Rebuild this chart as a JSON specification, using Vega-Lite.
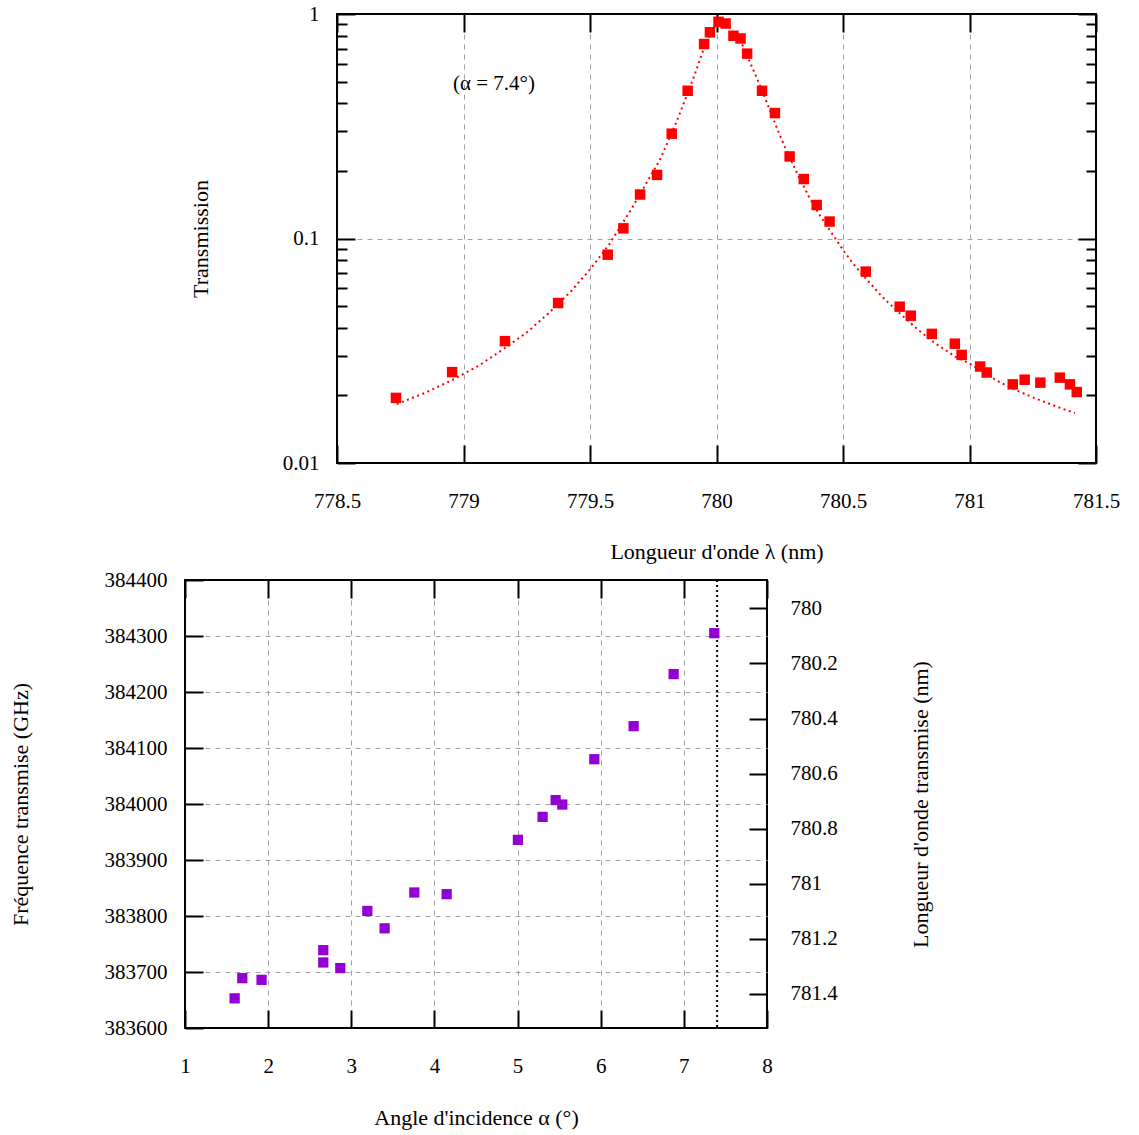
{
  "$schema": "https://vega.github.io/schema/vega-lite/v6.json",
  "padding": {"left": 8, "top": 2, "right": 5, "bottom": 5},
  "background": "white",
  "bounds": "flush",
  "spacing": 566,
  "config": {
    "view": {"stroke": null},
    "font": "Liberation Serif",
    "axis": {
      "labelFont": "Liberation Serif",
      "titleFont": "Liberation Serif",
      "labelFontSize": 21,
      "titleFontSize": 22,
      "titleFontWeight": "normal",
      "labelColor": "black",
      "titleColor": "black",
      "tickColor": "black",
      "tickWidth": 2,
      "gridColor": "#a0a0a0",
      "gridDash": [5, 5],
      "gridWidth": 1,
      "labelFlush": false,
      "domain": false
    }
  },
  "datasets": {
    "transmission": [
      {"wl": 778.733, "T": 0.0195}, {"wl": 778.955, "T": 0.0254}, {"wl": 779.164, "T": 0.0349},
      {"wl": 779.374, "T": 0.0516}, {"wl": 779.570, "T": 0.0847}, {"wl": 779.632, "T": 0.111},
      {"wl": 779.698, "T": 0.157}, {"wl": 779.765, "T": 0.192}, {"wl": 779.823, "T": 0.293},
      {"wl": 779.886, "T": 0.455}, {"wl": 779.951, "T": 0.735}, {"wl": 779.974, "T": 0.829},
      {"wl": 780.008, "T": 0.923}, {"wl": 780.036, "T": 0.907}, {"wl": 780.067, "T": 0.800},
      {"wl": 780.095, "T": 0.778}, {"wl": 780.121, "T": 0.666}, {"wl": 780.180, "T": 0.455},
      {"wl": 780.231, "T": 0.362}, {"wl": 780.289, "T": 0.232}, {"wl": 780.345, "T": 0.184},
      {"wl": 780.396, "T": 0.141}, {"wl": 780.447, "T": 0.119}, {"wl": 780.590, "T": 0.0712},
      {"wl": 780.724, "T": 0.0497}, {"wl": 780.768, "T": 0.0453}, {"wl": 780.851, "T": 0.0376},
      {"wl": 780.942, "T": 0.0340}, {"wl": 780.969, "T": 0.0303}, {"wl": 781.042, "T": 0.0269},
      {"wl": 781.068, "T": 0.0253}, {"wl": 781.171, "T": 0.0224}, {"wl": 781.218, "T": 0.0235},
      {"wl": 781.280, "T": 0.0228}, {"wl": 781.357, "T": 0.0240}, {"wl": 781.397, "T": 0.0224},
      {"wl": 781.424, "T": 0.0207}
    ],
    "fit": [
      {"wl": 778.736, "T": 0.0183}, {"wl": 778.847, "T": 0.0205}, {"wl": 778.955, "T": 0.0234},
      {"wl": 779.057, "T": 0.0270}, {"wl": 779.157, "T": 0.0321}, {"wl": 779.252, "T": 0.0383},
      {"wl": 779.342, "T": 0.0471}, {"wl": 779.426, "T": 0.0584}, {"wl": 779.504, "T": 0.0737},
      {"wl": 779.576, "T": 0.0942}, {"wl": 779.665, "T": 0.136}, {"wl": 779.777, "T": 0.225},
      {"wl": 779.844, "T": 0.335}, {"wl": 779.912, "T": 0.530}, {"wl": 779.948, "T": 0.691},
      {"wl": 779.974, "T": 0.806}, {"wl": 780.006, "T": 0.940}, {"wl": 780.046, "T": 0.893},
      {"wl": 780.104, "T": 0.722}, {"wl": 780.132, "T": 0.611}, {"wl": 780.161, "T": 0.513},
      {"wl": 780.196, "T": 0.411}, {"wl": 780.240, "T": 0.308}, {"wl": 780.268, "T": 0.259},
      {"wl": 780.318, "T": 0.196}, {"wl": 780.370, "T": 0.150}, {"wl": 780.410, "T": 0.126},
      {"wl": 780.462, "T": 0.103}, {"wl": 780.500, "T": 0.0889}, {"wl": 780.542, "T": 0.0768},
      {"wl": 780.590, "T": 0.0665}, {"wl": 780.653, "T": 0.0553}, {"wl": 780.720, "T": 0.0469},
      {"wl": 780.791, "T": 0.0397}, {"wl": 780.865, "T": 0.0341}, {"wl": 780.943, "T": 0.0298},
      {"wl": 780.999, "T": 0.0278}, {"wl": 781.088, "T": 0.0240}, {"wl": 781.130, "T": 0.0226},
      {"wl": 781.193, "T": 0.0209}, {"wl": 781.260, "T": 0.0194}, {"wl": 781.325, "T": 0.0182},
      {"wl": 781.370, "T": 0.0174}, {"wl": 781.417, "T": 0.0167}
    ],
    "angle": [
      {"alpha": 1.597, "freq": 383653}, {"alpha": 1.689, "freq": 383689}, {"alpha": 1.921, "freq": 383686},
      {"alpha": 2.663, "freq": 383739}, {"alpha": 2.663, "freq": 383717}, {"alpha": 2.868, "freq": 383707},
      {"alpha": 3.193, "freq": 383809}, {"alpha": 3.401, "freq": 383778}, {"alpha": 3.758, "freq": 383842},
      {"alpha": 4.147, "freq": 383839}, {"alpha": 5.004, "freq": 383936}, {"alpha": 5.301, "freq": 383977},
      {"alpha": 5.458, "freq": 384007}, {"alpha": 5.538, "freq": 383999}, {"alpha": 5.923, "freq": 384080},
      {"alpha": 6.396, "freq": 384139}, {"alpha": 6.877, "freq": 384232}, {"alpha": 7.366, "freq": 384305}
    ]
  },
  "vconcat": [
    {
      "bounds": "flush",
      "spacing": 0,
      "hconcat": [
        {
          "width": 152,
          "height": 449,
          "data": {"values": []},
          "mark": {"type": "point", "opacity": 0},
          "encoding": {}
        },
        {
          "width": 759,
          "height": 449,
          "view": {"stroke": "black", "strokeWidth": 2},
          "layer": [
            {
              "data": {"name": "fit"},
              "mark": {"type": "line", "color": "#ff0000", "strokeWidth": 2, "strokeDash": [2, 3.5], "strokeCap": "butt"},
              "encoding": {
                "x": {
                  "field": "wl", "type": "quantitative",
                  "scale": {"domain": [778.5, 781.5], "nice": false, "zero": false},
                  "axis": {"orient": "top", "labels": false, "grid": false, "title": null,
                           "values": [778.5, 779, 779.5, 780, 780.5, 781, 781.5], "tickSize": -18}
                },
                "y": {
                  "field": "T", "type": "quantitative",
                  "scale": {"type": "log", "domain": [0.01, 1], "nice": false},
                  "axis": {"orient": "right", "labels": false, "grid": false, "title": null,
                           "values": [0.01, 0.02, 0.03, 0.04, 0.05, 0.06, 0.07, 0.08, 0.09, 0.1, 0.2, 0.3, 0.4, 0.5, 0.6, 0.7, 0.8, 0.9, 1],
                           "tickSize": {"condition": {"test": "datum.value == 1 || datum.value == 0.1 || datum.value == 0.01", "value": -18}, "value": -10}}
                }
              }
            },
            {
              "data": {"name": "transmission"},
              "mark": {"type": "square", "color": "#ff0000", "size": 110, "opacity": 1},
              "encoding": {
                "x": {
                  "field": "wl", "type": "quantitative",
                  "scale": {"domain": [778.5, 781.5], "nice": false, "zero": false},
                  "axis": {"orient": "bottom", "title": "Longueur d'onde λ (nm)", "format": "~g", "grid": true,
                           "values": [778.5, 779, 779.5, 780, 780.5, 781, 781.5], "tickSize": -18,
                           "gridOpacity": {"condition": {"test": "datum.value == 778.5 || datum.value == 781.5", "value": 0}, "value": 1},
                           "labelPadding": 45, "titlePadding": 30}
                },
                "y": {
                  "field": "T", "type": "quantitative",
                  "scale": {"type": "log", "domain": [0.01, 1], "nice": false},
                  "axis": {"orient": "left", "title": "Transmission", "format": "~g", "grid": true,
                           "values": [0.01, 0.02, 0.03, 0.04, 0.05, 0.06, 0.07, 0.08, 0.09, 0.1, 0.2, 0.3, 0.4, 0.5, 0.6, 0.7, 0.8, 0.9, 1],
                           "labelExpr": "datum.value == 1 || datum.value == 0.1 || datum.value == 0.01 ? datum.label : ''",
                           "tickSize": {"condition": {"test": "datum.value == 1 || datum.value == 0.1 || datum.value == 0.01", "value": -18}, "value": -10},
                           "gridOpacity": {"condition": {"test": "datum.value == 0.1", "value": 1}, "value": 0},
                           "labelPadding": 36, "titlePadding": 70}
                }
              }
            },
            {
              "data": {"values": [{"wl": 779.1206, "T": 0.4878, "label": "(α = 7.4°)"}]},
              "mark": {"type": "text", "font": "Liberation Serif", "fontSize": 21, "color": "black", "align": "center", "baseline": "middle"},
              "encoding": {
                "x": {"field": "wl", "type": "quantitative", "axis": null},
                "y": {"field": "T", "type": "quantitative", "axis": null},
                "text": {"field": "label"}
              }
            }
          ],
          "resolve": {"axis": {"x": "independent", "y": "independent"}}
        }
      ]
    },
    {
      "width": 582,
      "height": 448,
      "view": {"stroke": "black", "strokeWidth": 2},
      "layer": [
        {
          "data": {"values": [{"alpha": 7.4, "lam_top": 779.8971, "lam_bottom": 781.5236}]},
          "mark": {"type": "rule", "color": "black", "strokeWidth": 2, "strokeDash": [2, 3]},
          "encoding": {
            "x": {
              "field": "alpha", "type": "quantitative",
              "scale": {"domain": [1, 8], "nice": false, "zero": false},
              "axis": {"orient": "top", "labels": false, "grid": false, "title": null,
                       "values": [1, 2, 3, 4, 5, 6, 7, 8], "tickSize": -18}
            },
            "y": {
              "field": "lam_top", "type": "quantitative",
              "scale": {"domain": [781.5236, 779.8971], "nice": false, "zero": false},
              "axis": {"orient": "right", "title": "Longueur d'onde transmise (nm)", "grid": false, "format": "~g",
                       "values": [780, 780.2, 780.4, 780.6, 780.8, 781, 781.2, 781.4], "tickSize": -18,
                       "labelPadding": 41, "titlePadding": 95, "titleAngle": -90}
            },
            "y2": {"field": "lam_bottom"}
          }
        },
        {
          "data": {"name": "angle"},
          "mark": {"type": "square", "color": "#9400d3", "size": 105, "opacity": 1},
          "encoding": {
            "x": {
              "field": "alpha", "type": "quantitative",
              "scale": {"domain": [1, 8], "nice": false, "zero": false},
              "axis": {"orient": "bottom", "title": "Angle d'incidence α (°)", "format": "~g", "grid": true,
                       "values": [1, 2, 3, 4, 5, 6, 7, 8], "tickSize": -18,
                       "gridOpacity": {"condition": {"test": "datum.value == 1 || datum.value == 8", "value": 0}, "value": 1},
                       "labelPadding": 45, "titlePadding": 31}
            },
            "y": {
              "field": "freq", "type": "quantitative",
              "scale": {"domain": [383600, 384400], "nice": false, "zero": false},
              "axis": {"orient": "left", "title": "Fréquence transmise (GHz)", "format": "d", "grid": true,
                       "values": [383600, 383700, 383800, 383900, 384000, 384100, 384200, 384300, 384400], "tickSize": -18,
                       "gridOpacity": {"condition": {"test": "datum.value == 383600 || datum.value == 384400", "value": 0}, "value": 1},
                       "labelPadding": 36, "titlePadding": 72}
            }
          }
        }
      ],
      "resolve": {"scale": {"y": "independent"}, "axis": {"x": "independent", "y": "independent"}}
    }
  ]
}
